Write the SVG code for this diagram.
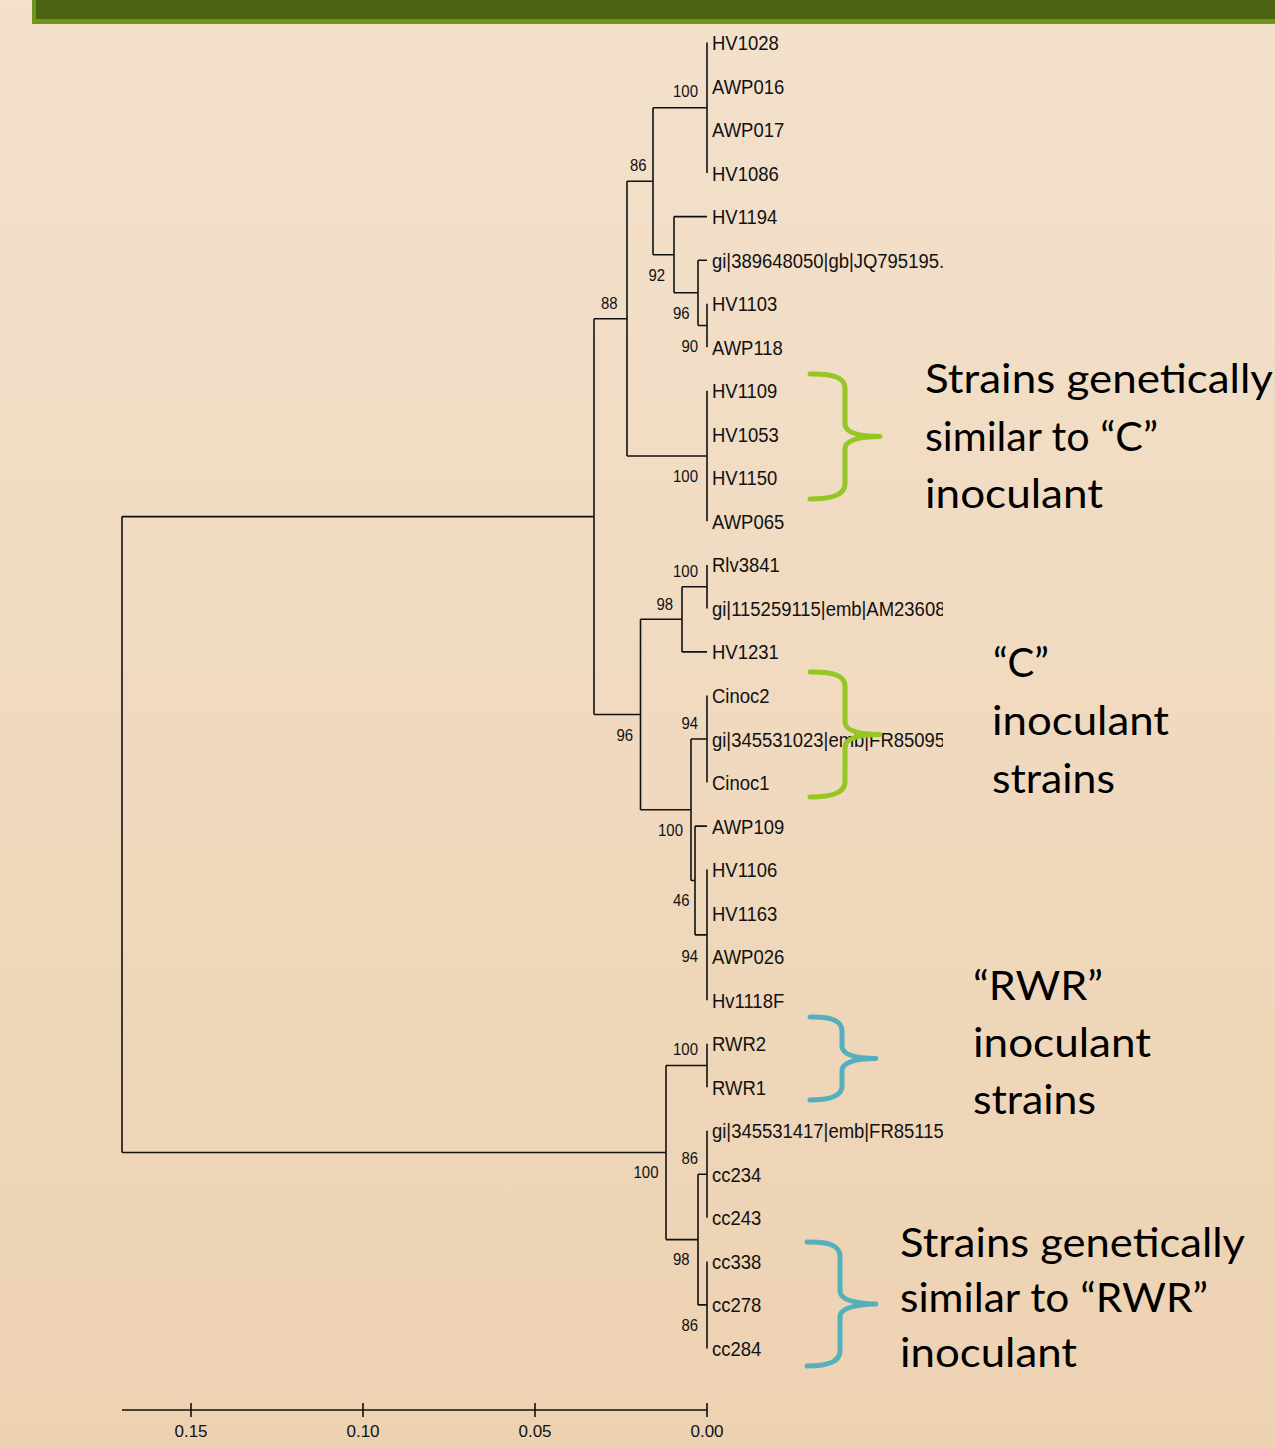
<svg xmlns="http://www.w3.org/2000/svg" width="1275" height="1447" viewBox="0 0 1275 1447">
<defs>
<linearGradient id="bg" x1="0" y1="0" x2="0" y2="1">
<stop offset="0" stop-color="#F3E1CC"/>
<stop offset="1" stop-color="#EDD2B2"/>
</linearGradient>
<clipPath id="lc" clipPathUnits="userSpaceOnUse"><rect x="700" y="0" width="243" height="1447"/></clipPath>
</defs>
<style>
.leaf{font-family:"Liberation Sans",Arial,sans-serif;font-size:21px;fill:#111}
.bs{font-family:"Liberation Sans",Arial,sans-serif;font-size:17px;fill:#111}
.edge{fill:none;stroke:#111;stroke-width:1.6}
.big{font-family:Lato,"Noto Sans",sans-serif;font-size:40px;fill:#000}
.gbr{fill:none;stroke:#95C623;stroke-width:5;stroke-linecap:round;stroke-linejoin:round}
.tbr{fill:none;stroke:#55B0BD;stroke-width:5;stroke-linecap:round;stroke-linejoin:round}
.axis{fill:none;stroke:#111;stroke-width:1.6}
.tick{font-family:"Liberation Sans",Arial,sans-serif;font-size:17px;fill:#111}
</style>
<rect x="0" y="0" width="1275" height="1447" fill="url(#bg)"/>
<g id="header">
<rect x="32" y="-5" width="1250" height="29" fill="#6E961B"/>
<rect x="36" y="-5" width="1245" height="24" fill="#4B6313"/>
</g>
<g id="connectors">
<path class="edge" d="M122,516.6V1152.5M122,516.6H594M122,1152.5H666
M594,318.7V714.5M594,318.7H627M594,714.5H640.5
M627,181.3V456M627,181.3H653M627,456H707
M653,107.8V254.7M653,107.8H707M653,254.7H674
M674,216.6V292.8M674,216.6H707M674,292.8H698
M698,260.2V325.5M698,260.2H707M698,325.5H707
M707,42.5V173.1M707,303.7V347.2M707,390.7V521.3M707,564.9V608.4M707,695.5V782.5M707,869.6V1000.2M707,1043.7V1087.2M707,1130.8V1217.8M707,1261.4V1348.4
M640.5,619.3V809.8M640.5,619.3H682M640.5,809.8H691
M682,586.7V651.9M682,586.7H707M682,651.9H707
M691,739V880.5M691,739H707M691,880.5H695
M695,826.1V934.9M695,826.1H707M695,934.9H707
M666,1065.5V1239.6M666,1065.5H707M666,1239.6H698
M698,1174.3V1304.9M698,1174.3H707M698,1304.9H707"/>
</g>
<g id="leaves" clip-path="url(#lc)">
<g id="n-HV1028" transform="translate(712,50) scale(0.88,1)"><text class="leaf">HV1028</text></g>
<g id="n-AWP016" transform="translate(712,93.5) scale(0.88,1)"><text class="leaf">AWP016</text></g>
<g id="n-AWP017" transform="translate(712,137.1) scale(0.88,1)"><text class="leaf">AWP017</text></g>
<g id="n-HV1086" transform="translate(712,180.6) scale(0.88,1)"><text class="leaf">HV1086</text></g>
<g id="n-HV1194" transform="translate(712,224.1) scale(0.88,1)"><text class="leaf">HV1194</text></g>
<g id="n-gi389648050" transform="translate(712,267.7) scale(0.88,1)"><text class="leaf">gi|389648050|gb|JQ795195.</text></g>
<g id="n-HV1103" transform="translate(712,311.2) scale(0.88,1)"><text class="leaf">HV1103</text></g>
<g id="n-AWP118" transform="translate(712,354.7) scale(0.88,1)"><text class="leaf">AWP118</text></g>
<g id="n-HV1109" transform="translate(712,398.2) scale(0.88,1)"><text class="leaf">HV1109</text></g>
<g id="n-HV1053" transform="translate(712,441.8) scale(0.88,1)"><text class="leaf">HV1053</text></g>
<g id="n-HV1150" transform="translate(712,485.3) scale(0.88,1)"><text class="leaf">HV1150</text></g>
<g id="n-AWP065" transform="translate(712,528.8) scale(0.88,1)"><text class="leaf">AWP065</text></g>
<g id="n-Rlv3841" transform="translate(712,572.4) scale(0.88,1)"><text class="leaf">Rlv3841</text></g>
<g id="n-gi115259115" transform="translate(712,615.9) scale(0.88,1)"><text class="leaf">gi|115259115|emb|AM236080</text></g>
<g id="n-HV1231" transform="translate(712,659.4) scale(0.88,1)"><text class="leaf">HV1231</text></g>
<g id="n-Cinoc2" transform="translate(712,703) scale(0.88,1)"><text class="leaf">Cinoc2</text></g>
<g id="n-gi345531023" transform="translate(712,746.5) scale(0.88,1)"><text class="leaf">gi|345531023|emb|FR850951</text></g>
<g id="n-Cinoc1" transform="translate(712,790) scale(0.88,1)"><text class="leaf">Cinoc1</text></g>
<g id="n-AWP109" transform="translate(712,833.6) scale(0.88,1)"><text class="leaf">AWP109</text></g>
<g id="n-HV1106" transform="translate(712,877.1) scale(0.88,1)"><text class="leaf">HV1106</text></g>
<g id="n-HV1163" transform="translate(712,920.6) scale(0.88,1)"><text class="leaf">HV1163</text></g>
<g id="n-AWP026" transform="translate(712,964.2) scale(0.88,1)"><text class="leaf">AWP026</text></g>
<g id="n-Hv1118F" transform="translate(712,1007.7) scale(0.88,1)"><text class="leaf">Hv1118F</text></g>
<g id="n-RWR2" transform="translate(712,1051.2) scale(0.88,1)"><text class="leaf">RWR2</text></g>
<g id="n-RWR1" transform="translate(712,1094.7) scale(0.88,1)"><text class="leaf">RWR1</text></g>
<g id="n-gi345531417" transform="translate(712,1138.3) scale(0.88,1)"><text class="leaf">gi|345531417|emb|FR851150</text></g>
<g id="n-cc234" transform="translate(712,1181.8) scale(0.88,1)"><text class="leaf">cc234</text></g>
<g id="n-cc243" transform="translate(712,1225.3) scale(0.88,1)"><text class="leaf">cc243</text></g>
<g id="n-cc338" transform="translate(712,1268.9) scale(0.88,1)"><text class="leaf">cc338</text></g>
<g id="n-cc278" transform="translate(712,1312.4) scale(0.88,1)"><text class="leaf">cc278</text></g>
<g id="n-cc284" transform="translate(712,1355.9) scale(0.88,1)"><text class="leaf">cc284</text></g>
</g>
<g id="bootstrap">
<g id="b1"><text class="bs" x="673" y="97" textLength="25" lengthAdjust="spacingAndGlyphs">100</text></g>
<g id="b2"><text class="bs" x="630" y="171" textLength="16.6" lengthAdjust="spacingAndGlyphs">86</text></g>
<g id="b3"><text class="bs" x="601" y="309" textLength="16.6" lengthAdjust="spacingAndGlyphs">88</text></g>
<g id="b4"><text class="bs" x="648.5" y="281" textLength="16.6" lengthAdjust="spacingAndGlyphs">92</text></g>
<g id="b5"><text class="bs" x="673" y="319" textLength="16.6" lengthAdjust="spacingAndGlyphs">96</text></g>
<g id="b6"><text class="bs" x="681.5" y="352" textLength="16.6" lengthAdjust="spacingAndGlyphs">90</text></g>
<g id="b7"><text class="bs" x="673" y="482" textLength="25" lengthAdjust="spacingAndGlyphs">100</text></g>
<g id="b8"><text class="bs" x="673" y="577" textLength="25" lengthAdjust="spacingAndGlyphs">100</text></g>
<g id="b9"><text class="bs" x="656.5" y="610" textLength="16.6" lengthAdjust="spacingAndGlyphs">98</text></g>
<g id="b10"><text class="bs" x="616.5" y="741" textLength="16.6" lengthAdjust="spacingAndGlyphs">96</text></g>
<g id="b11"><text class="bs" x="681.5" y="729" textLength="16.6" lengthAdjust="spacingAndGlyphs">94</text></g>
<g id="b12"><text class="bs" x="658" y="836" textLength="25" lengthAdjust="spacingAndGlyphs">100</text></g>
<g id="b13"><text class="bs" x="673" y="906" textLength="16.6" lengthAdjust="spacingAndGlyphs">46</text></g>
<g id="b14"><text class="bs" x="681.5" y="962" textLength="16.6" lengthAdjust="spacingAndGlyphs">94</text></g>
<g id="b15"><text class="bs" x="673" y="1055" textLength="25" lengthAdjust="spacingAndGlyphs">100</text></g>
<g id="b16"><text class="bs" x="633.5" y="1178" textLength="25" lengthAdjust="spacingAndGlyphs">100</text></g>
<g id="b17"><text class="bs" x="681.5" y="1164" textLength="16.6" lengthAdjust="spacingAndGlyphs">86</text></g>
<g id="b18"><text class="bs" x="673" y="1265" textLength="16.6" lengthAdjust="spacingAndGlyphs">98</text></g>
<g id="b19"><text class="bs" x="681.5" y="1331" textLength="16.6" lengthAdjust="spacingAndGlyphs">86</text></g>
</g>
<g id="scale-bar">
<path class="axis" d="M122,1410H707M191,1403V1417M363,1403V1417M535,1403V1417M707,1403V1417"/>
<text class="tick" x="191" y="1437" text-anchor="middle">0.15</text>
<text class="tick" x="363" y="1437" text-anchor="middle">0.10</text>
<text class="tick" x="535" y="1437" text-anchor="middle">0.05</text>
<text class="tick" x="707" y="1437" text-anchor="middle">0.00</text>
</g>
<g id="brace-c-similar">
<path class="gbr" d="M810,374 Q845,373 845,388 L845,424 Q845,436 880,436.5 Q845,437 845,449 L845,484 Q845,499 810,499"/>
<g id="label-c-similar">
<text class="big" x="925" y="393" textLength="348" lengthAdjust="spacingAndGlyphs">Strains genetically</text>
<text class="big" x="925" y="451" textLength="233" lengthAdjust="spacingAndGlyphs">similar to “C”</text>
<text class="big" x="925" y="508" textLength="178" lengthAdjust="spacingAndGlyphs">inoculant</text>
</g>
</g>
<g id="brace-c-inoculant">
<path class="gbr" d="M810,672 Q845,671 845,686 L845,722 Q845,734 880,734.5 Q845,735 845,747 L845,782 Q845,797 810,797"/>
<g id="label-c-inoculant">
<text class="big" x="993" y="677">“C”</text>
<text class="big" x="992" y="735" textLength="177" lengthAdjust="spacingAndGlyphs">inoculant</text>
<text class="big" x="992" y="793" textLength="123" lengthAdjust="spacingAndGlyphs">strains</text>
</g>
</g>
<g id="brace-rwr-inoculant">
<path class="tbr" d="M810,1017 Q842,1016 842,1031 L842,1046 Q842,1058 876,1058.5 Q842,1059 842,1071 L842,1086 Q842,1100 810,1100"/>
<g id="label-rwr-inoculant">
<text class="big" x="973" y="1000" textLength="130" lengthAdjust="spacingAndGlyphs">“RWR”</text>
<text class="big" x="973" y="1057" textLength="178" lengthAdjust="spacingAndGlyphs">inoculant</text>
<text class="big" x="973" y="1114" textLength="123" lengthAdjust="spacingAndGlyphs">strains</text>
</g>
</g>
<g id="brace-rwr-similar">
<path class="tbr" d="M807,1242 Q840,1241 840,1256 L840,1291 Q840,1303 876,1304 Q840,1305 840,1317 L840,1351 Q840,1366 807,1366"/>
<g id="label-rwr-similar">
<text class="big" x="900" y="1257" textLength="345" lengthAdjust="spacingAndGlyphs">Strains genetically</text>
<text class="big" x="900" y="1312" textLength="308" lengthAdjust="spacingAndGlyphs">similar to “RWR”</text>
<text class="big" x="900" y="1367" textLength="177" lengthAdjust="spacingAndGlyphs">inoculant</text>
</g>
</g>
</svg>
